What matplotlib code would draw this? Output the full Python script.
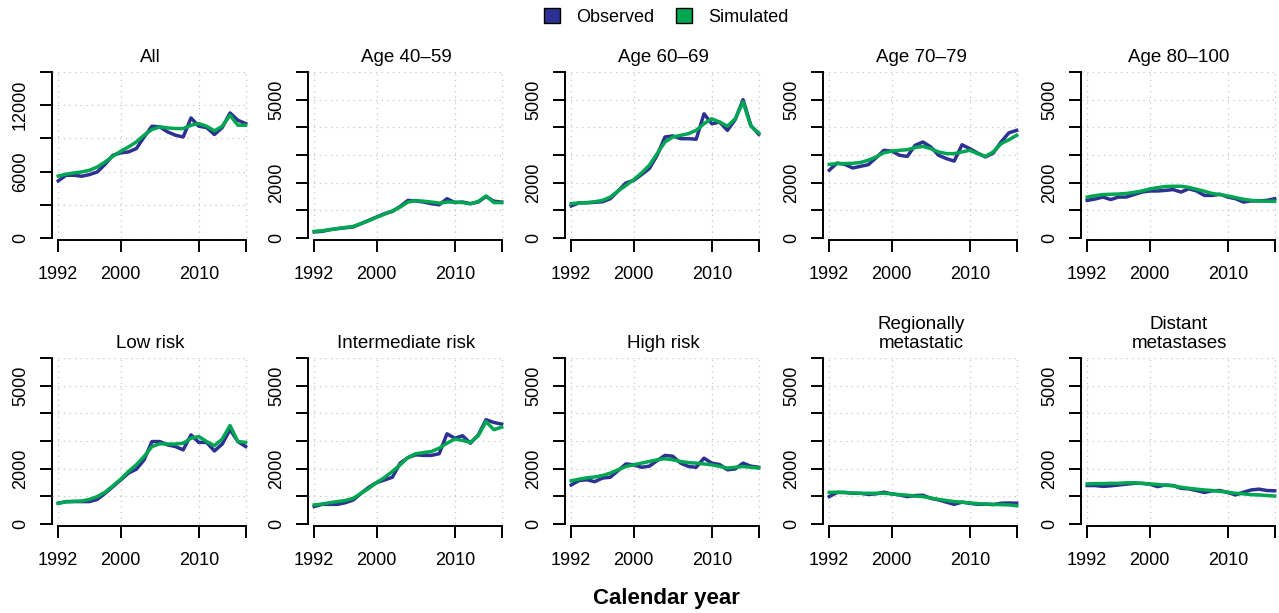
from matplotlib import pyplot as plt
from matplotlib.patches import Patch
import numpy as np

plt.rcParams['font.family'] = ['Liberation Sans', 'DejaVu Sans']

years = np.arange(1992, 2017)

titles = ['All', 'Age 40\u201359', 'Age 60\u201369', 'Age 70\u201379', 'Age 80\u2013100',
          'Low risk', 'Intermediate risk', 'High risk', 'Regionally\nmetastatic', 'Distant\nmetastases']

# values in thousands of cases
obs_all = [5.16, 5.67, 5.67, 5.58, 5.73, 5.97, 6.66, 7.48, 7.69, 7.78, 8.08, 9.13, 10.1,
           10.04, 9.59, 9.29, 9.13, 10.85, 10.1, 9.98, 9.35, 9.98, 11.3, 10.64, 10.34]
sim_all = [5.6, 5.76, 5.88, 5.97, 6.12, 6.42, 6.87, 7.39, 7.84, 8.23, 8.68, 9.29, 9.8,
           10.04, 9.95, 9.89, 9.89, 10.19, 10.34, 10.1, 9.68, 10.1, 11.09, 10.19, 10.19]

obs_4059 = [0.22, 0.24, 0.3, 0.34, 0.37, 0.4, 0.52, 0.64, 0.76, 0.88, 0.96, 1.14, 1.36,
            1.34, 1.3, 1.24, 1.2, 1.42, 1.28, 1.3, 1.24, 1.3, 1.5, 1.33, 1.3]
sim_4059 = [0.24, 0.26, 0.3, 0.34, 0.38, 0.42, 0.52, 0.63, 0.75, 0.86, 0.98, 1.12, 1.3,
            1.35, 1.33, 1.3, 1.26, 1.3, 1.3, 1.28, 1.24, 1.32, 1.52, 1.28, 1.28]

obs_6069 = [1.16, 1.27, 1.27, 1.29, 1.31, 1.42, 1.7, 1.99, 2.08, 2.29, 2.51, 2.99, 3.65,
            3.69, 3.59, 3.59, 3.57, 4.49, 4.13, 4.19, 3.89, 4.28, 5.0, 4.07, 3.75]
sim_6069 = [1.24, 1.27, 1.28, 1.31, 1.36, 1.48, 1.7, 1.9, 2.11, 2.35, 2.63, 3.05, 3.47,
            3.65, 3.71, 3.77, 3.89, 4.13, 4.31, 4.19, 4.04, 4.31, 4.92, 4.04, 3.8]

obs_7079 = [2.45, 2.71, 2.66, 2.53, 2.59, 2.65, 2.9, 3.17, 3.14, 2.99, 2.95, 3.35, 3.47,
            3.29, 2.99, 2.87, 2.78, 3.37, 3.23, 3.07, 2.93, 3.07, 3.47, 3.8, 3.89]
sim_7079 = [2.66, 2.69, 2.69, 2.7, 2.73, 2.81, 2.93, 3.08, 3.14, 3.17, 3.19, 3.27, 3.31,
            3.23, 3.11, 3.05, 3.05, 3.11, 3.17, 3.05, 2.95, 3.11, 3.41, 3.55, 3.71]

obs_80 = [1.36, 1.41, 1.48, 1.39, 1.48, 1.48, 1.57, 1.66, 1.7, 1.7, 1.72, 1.75, 1.66,
          1.78, 1.7, 1.54, 1.54, 1.58, 1.48, 1.42, 1.3, 1.34, 1.34, 1.36, 1.42]
sim_80 = [1.48, 1.53, 1.57, 1.58, 1.59, 1.61, 1.65, 1.7, 1.77, 1.82, 1.86, 1.87, 1.87,
          1.83, 1.76, 1.69, 1.61, 1.57, 1.52, 1.46, 1.4, 1.36, 1.34, 1.33, 1.33]

obs_low = [0.75, 0.81, 0.81, 0.81, 0.81, 0.89, 1.11, 1.35, 1.59, 1.84, 1.98, 2.32, 2.98,
           2.98, 2.86, 2.8, 2.68, 3.22, 2.95, 2.95, 2.64, 2.89, 3.41, 2.98, 2.8]
sim_low = [0.75, 0.8, 0.82, 0.83, 0.89, 0.99, 1.15, 1.38, 1.62, 1.9, 2.14, 2.44, 2.8,
           2.9, 2.89, 2.89, 2.92, 3.1, 3.16, 2.98, 2.83, 3.07, 3.56, 2.98, 2.95]

obs_int = [0.63, 0.71, 0.71, 0.71, 0.77, 0.87, 1.11, 1.33, 1.5, 1.59, 1.69, 2.2, 2.4,
           2.5, 2.48, 2.48, 2.54, 3.26, 3.1, 3.19, 2.92, 3.22, 3.77, 3.67, 3.61]
sim_int = [0.69, 0.72, 0.77, 0.81, 0.85, 0.93, 1.11, 1.29, 1.5, 1.68, 1.9, 2.14, 2.4,
           2.54, 2.58, 2.62, 2.74, 2.92, 3.07, 3.02, 2.95, 3.19, 3.7, 3.41, 3.5]

obs_high = [1.41, 1.57, 1.6, 1.53, 1.66, 1.69, 1.93, 2.17, 2.14, 2.05, 2.09, 2.29, 2.48,
            2.45, 2.2, 2.08, 2.05, 2.38, 2.2, 2.15, 1.96, 1.99, 2.2, 2.09, 2.05]
sim_high = [1.56, 1.62, 1.67, 1.7, 1.75, 1.84, 1.96, 2.08, 2.14, 2.2, 2.26, 2.32, 2.36,
            2.32, 2.26, 2.22, 2.2, 2.17, 2.14, 2.08, 2.02, 2.05, 2.08, 2.05, 2.02]

obs_reg = [0.99, 1.14, 1.14, 1.11, 1.11, 1.07, 1.09, 1.15, 1.09, 1.05, 0.99, 1.03, 1.04,
           0.93, 0.87, 0.79, 0.71, 0.79, 0.75, 0.71, 0.72, 0.7, 0.75, 0.76, 0.75]
sim_reg = [1.14, 1.15, 1.14, 1.12, 1.11, 1.11, 1.11, 1.11, 1.09, 1.06, 1.04, 1.01, 0.99,
           0.94, 0.89, 0.85, 0.81, 0.79, 0.76, 0.74, 0.72, 0.71, 0.7, 0.69, 0.66]

obs_dist = [1.39, 1.39, 1.36, 1.38, 1.41, 1.44, 1.47, 1.47, 1.44, 1.35, 1.41, 1.39, 1.29,
            1.27, 1.21, 1.14, 1.2, 1.21, 1.14, 1.05, 1.15, 1.23, 1.26, 1.21, 1.2]
sim_dist = [1.45, 1.46, 1.46, 1.47, 1.47, 1.49, 1.49, 1.47, 1.45, 1.43, 1.4, 1.38, 1.33,
            1.29, 1.26, 1.23, 1.21, 1.18, 1.15, 1.11, 1.09, 1.06, 1.05, 1.03, 1.01]

observed = [obs_all, obs_4059, obs_6069, obs_7079, obs_80,
            obs_low, obs_int, obs_high, obs_reg, obs_dist]
simulated = [sim_all, sim_4059, sim_6069, sim_7079, sim_80,
             sim_low, sim_int, sim_high, sim_reg, sim_dist]

xticks = [1992, 2000, 2010, 2016]
xticklabels = ['1992', '2000', '2010', '']
yticks_all = [0, 3000, 6000, 9000, 12000, 15000]
ylabels_all = ['0', '', '6000', '', '12000', '']
yticks_sub = [0, 1000, 2000, 3000, 4000, 5000, 6000]
ylabels_sub = ['0', '', '2000', '', '', '5000', '']

col_obs = '#2e3192'
col_sim = '#00a651'

W, H = 1279, 613
fig = plt.figure(figsize=(W / 100, H / 100), dpi=100)

lefts = [52, 308, 565, 823, 1081]
bottoms = [613 - 238, 613 - 524]

for i in range(10):
    r, c = divmod(i, 5)
    ax = fig.add_axes([lefts[c] / W, bottoms[r] / H, 196 / W, 166 / H])
    if i == 0:
        yt, yl = yticks_all, ylabels_all
    else:
        yt, yl = yticks_sub, ylabels_sub

    for y in yt:
        ax.axhline(y, color='#c4c4c4', lw=0.9, ls=(0, (1, 3.5)), zorder=0)
    for x in xticks:
        ax.axvline(x, color='#c4c4c4', lw=0.9, ls=(0, (1, 3.5)), zorder=0)

    ax.plot(years, np.array(observed[i]) * 1000, color=col_obs, lw=2.5, zorder=2)
    ax.plot(years, np.array(simulated[i]) * 1000, color=col_sim, lw=2.5, zorder=3)

    ax.set_xlim(1991.2, 2016.3)
    ax.set_ylim(0, yt[-1])
    ax.set_xticks(xticks)
    ax.set_xticklabels(xticklabels)
    ax.set_yticks(yt)
    ax.set_yticklabels(yl, rotation=90, va='center')

    for s in ['top', 'right']:
        ax.spines[s].set_visible(False)
    ax.spines['bottom'].set_bounds(1992, 2016)
    ax.spines['bottom'].set_position(('outward', 1.5))
    ax.spines['left'].set_bounds(0, yt[-1])
    for s in ['left', 'bottom']:
        ax.spines[s].set_linewidth(1.4)
    ax.tick_params(axis='both', length=8.5, width=1.4, labelsize=13, direction='out')
    ax.tick_params(axis='x', pad=10)
    ax.tick_params(axis='y', pad=8)

    ax.set_title(titles[i], fontsize=13.5, pad=7.5, linespacing=1.15)

handles = [Patch(facecolor=col_obs, edgecolor='black', label='Observed'),
           Patch(facecolor=col_sim, edgecolor='black', label='Simulated')]
fig.legend(handles=handles, loc='center', bbox_to_anchor=(0.521, 0.972), ncol=2,
           frameon=False, fontsize=13, handlelength=0.9, handleheight=0.9,
           handletextpad=0.9, columnspacing=1.2)

fig.text(0.521, 0.024, 'Calendar year', ha='center', va='center',
         fontsize=16, fontweight='bold')

plt.savefig('out.png', dpi=100)
